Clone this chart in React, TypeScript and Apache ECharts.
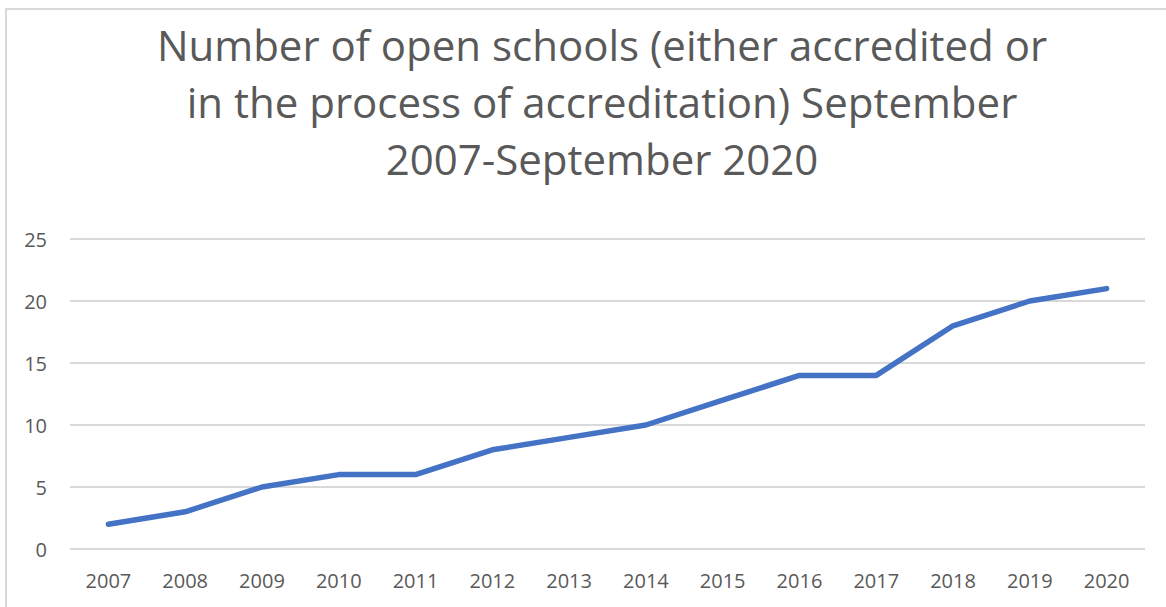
import React, { useEffect, useRef } from "react";
import * as echarts from "echarts";

const years = ["2007", "2008", "2009", "2010", "2011", "2012", "2013", "2014", "2015", "2016", "2017", "2018", "2019", "2020"];
const schools = [2, 3, 5, 6, 6, 8, 9, 10, 12, 14, 14, 18, 20, 21];
const titleText = "Number of open schools (either accredited or\nin the process of accreditation) September\n2007-September 2020";

export default function App() {
  const ref = useRef<HTMLDivElement>(null);
  useEffect(() => {
    const chart = echarts.init(ref.current!, null, { renderer: "svg" });
    chart.setOption({
      animation: false,
      backgroundColor: "#ffffff",
      textStyle: { fontFamily: "Open Sans" },
      title: {
        text: titleText,
        left: 597,
        top: 11,
        textAlign: "center",
        textStyle: { fontFamily: "Open Sans", fontSize: 42, fontWeight: "normal", color: "#595959", lineHeight: 57 },
      },
      graphic: [
        { type: "rect", shape: { x: 6, y: 9, width: 1300, height: 800 }, style: { fill: "none", stroke: "#d9d9d9", lineWidth: 2 }, silent: true },
      ],
      grid: { left: 70, right: 21, top: 239, bottom: 58 },
      xAxis: {
        type: "category",
        data: years,
        boundaryGap: true,
        axisLine: { show: false },
        axisTick: { show: false },
        axisLabel: { color: "#595959", fontSize: 20, margin: 21, fontFamily: "Open Sans" },
      },
      yAxis: {
        type: "value",
        min: 0,
        max: 25,
        interval: 5,
        axisLine: { show: false },
        axisTick: { show: false },
        splitLine: { lineStyle: { color: "#d9d9d9", width: 2 } },
        axisLabel: { color: "#595959", fontSize: 20, margin: 23, fontFamily: "Open Sans" },
      },
      series: [
        {
          type: "line",
          data: schools,
          symbol: "none",
          lineStyle: { color: "#4472C4", width: 5.5, cap: "round", join: "round" },
        },
      ],
    });
    return () => chart.dispose();
  }, []);
  return <div ref={ref} style={{ position: "absolute", left: 0, top: 0, width: 1166, height: 607 }} />;
}
